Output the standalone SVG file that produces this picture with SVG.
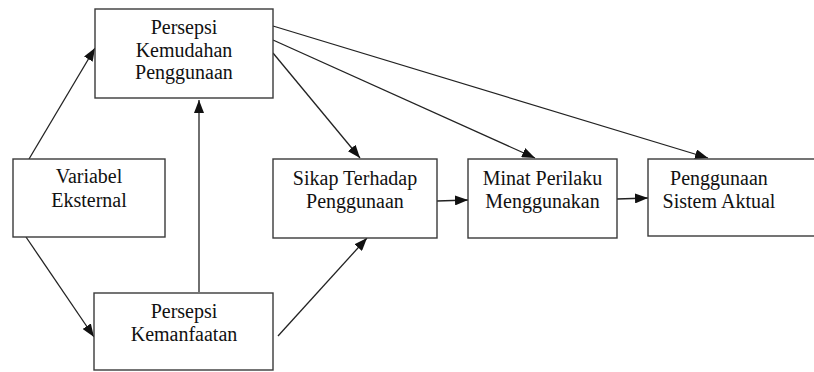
<svg xmlns="http://www.w3.org/2000/svg" width="814" height="372" viewBox="0 0 814 372">
<defs>
<marker id="ah" markerUnits="userSpaceOnUse" markerWidth="14" markerHeight="10" refX="13" refY="5" orient="auto">
<path d="M0,0 L13,5 L0,10 Z" fill="#111"/>
</marker>
</defs>
<style>
.box{fill:#fff;stroke:#3a3a3a;stroke-width:1.4}
.t{fill:#111;text-anchor:middle}
.c{stroke:#222;stroke-width:1.3;fill:none;marker-end:url(#ah)}
</style>
<rect width="814" height="372" fill="#fff"/>
<g id="connectors">
<line class="c" x1="29" y1="159" x2="95" y2="48"/>
<line class="c" x1="26" y1="237" x2="94" y2="337"/>
<line class="c" x1="199" y1="292" x2="199" y2="100"/>
<line class="c" x1="278" y1="336" x2="367" y2="238"/>
<line class="c" x1="273" y1="53" x2="360" y2="158"/>
<line class="c" x1="273" y1="40" x2="535" y2="158"/>
<line class="c" x1="273" y1="26" x2="708" y2="158"/>
<line class="c" x1="437" y1="201" x2="468" y2="200"/>
<line class="c" x1="617" y1="199" x2="648" y2="198"/>
</g>
<g font-family="Liberation Serif, Times New Roman, serif" font-size="20">
<g id="pkp">
<rect class="box" x="95" y="9" width="178" height="89"/>
<text class="t" x="184" y="34">Persepsi</text>
<text class="t" x="184" y="57">Kemudahan</text>
<text class="t" x="184" y="79">Penggunaan</text>
</g>
<g id="ve">
<rect class="box" x="13" y="159" width="152" height="78"/>
<text class="t" x="89" y="183">Variabel</text>
<text class="t" x="89" y="207">Eksternal</text>
</g>
<g id="pk">
<rect class="box" x="94" y="293" width="179" height="77"/>
<text class="t" x="184" y="318">Persepsi</text>
<text class="t" x="184" y="341">Kemanfaatan</text>
</g>
<g id="sikap">
<rect class="box" x="273" y="159" width="164" height="79"/>
<text class="t" x="355" y="185">Sikap Terhadap</text>
<text class="t" x="355" y="208">Penggunaan</text>
</g>
<g id="minat">
<rect class="box" x="468" y="159" width="149" height="79"/>
<text class="t" x="542.5" y="185">Minat Perilaku</text>
<text class="t" x="542.5" y="208">Menggunakan</text>
</g>
<g id="psa">
<rect class="box" x="648" y="159" width="180" height="77"/>
<text class="t" x="719" y="185">Penggunaan</text>
<text class="t" x="719" y="208">Sistem Aktual</text>
</g>
</g>
</svg>
